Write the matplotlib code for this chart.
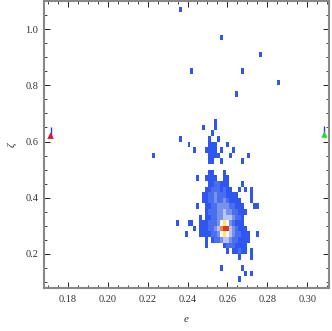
import matplotlib
import numpy as np

matplotlib.use("Agg")
import matplotlib.pyplot as plt
from matplotlib.colors import BoundaryNorm, ListedColormap
from matplotlib.ticker import MultipleLocator

# 2D histogram of (e, zeta): bin grid
e_start, e_step, n_cols = 0.2205, 0.0015, 47
z_start, z_step, n_rows = 0.08, 0.02, 51

# density level per cell, read row by row from the top (row 0 = zeta 1.08-1.10)
# each entry: (first column, levels for consecutive columns)
cell_rows = {
    1: [(10, "1")],
    6: [(24, "1")],
    9: [(37, "1")],
    12: [(14, "1"), (31, "1")],
    14: [(43, "1")],
    16: [(29, "1")],
    21: [(22, "1")],
    22: [(18, "1"), (22, "1")],
    23: [(21, "1")],
    24: [(10, "1"), (20, "1"), (23, "1")],
    25: [(13, "1"), (20, "111"), (26, "1")],
    26: [(15, "1"), (19, "1111"), (24, "1"), (28, "1")],
    27: [(1, "1"), (20, "1111"), (27, "1"), (33, "1")],
    28: [(20, "11"), (24, "1"), (31, "1")],
    30: [(20, "11"), (25, "1")],
    31: [(16, "1"), (19, "1111"), (25, "11")],
    32: [(20, "1122111"), (31, "1")],
    33: [(19, "112221211"), (30, "1"), (32, "1"), (34, "1")],
    34: [(18, "112232221111"), (34, "1")],
    35: [(18, "1122322321111"), (34, "1")],
    36: [(16, "1"), (19, "1122333322111"), (35, "11")],
    37: [(19, "12223343322111")],
    38: [(17, "1"), (19, "1122334443221")],
    39: [(9, "1"), (13, "11"), (17, "111222356532111")],
    40: [(15, "1"), (17, "1112234788432111")],
    41: [(12, "1"), (17, "11112235654322111"), (36, "1")],
    42: [(19, "1"), (21, "1223443221111")],
    43: [(19, "1"), (25, "12221111")],
    44: [(26, "1"), (28, "11211"), (34, "1")],
    45: [(30, "1"), (34, "1")],
    47: [(24, "1"), (31, "1")],
    48: [(32, "1"), (34, "1")],
    49: [(30, "1")],
}

level_colors = ["#3056f0", "#4a6ef0", "#7892ec", "#b8c5f3", "#f6f6f8", "#f7e86a", "#ee8a3a", "#d83a2a"]

# reference markers on the frame edges
marker_e = [0.1715, 0.3085]
marker_z = [0.621, 0.625]
marker_colors = ["#e8102a", "#22dd22"]
marker_tip = 0.03

grid = np.zeros((n_rows, n_cols))
for row, segments in cell_rows.items():
    for col, levels in segments:
        for k, ch in enumerate(levels):
            grid[n_rows - 1 - row, col + k] = int(ch)

e_edges = e_start + e_step * np.arange(n_cols + 1)
z_edges = z_start + z_step * np.arange(n_rows + 1)

plt.rcParams["font.family"] = ["Liberation Serif", "DejaVu Serif"]

fig = plt.figure(figsize=(3.32, 3.31), dpi=100)
ax = fig.add_axes([0.1325, 0.13, 0.8585, 0.867])

cmap = ListedColormap(level_colors)
norm = BoundaryNorm(np.arange(0.5, len(level_colors) + 1.0, 1.0), cmap.N)
ax.pcolormesh(e_edges, z_edges, np.ma.masked_equal(grid, 0), cmap=cmap, norm=norm,
              edgecolors="face", linewidth=0)

for e, z, c in zip(marker_e, marker_z, marker_colors):
    ax.vlines(e, z, z + marker_tip, color="#2040f0", linewidth=1.0, zorder=4)
    ax.scatter([e], [z], marker="^", s=22, color=c, edgecolors="none", zorder=5)

ax.set_xlim(0.1682, 0.3108)
ax.set_ylim(0.079, 1.10)

ax.xaxis.set_major_locator(MultipleLocator(0.02))
ax.xaxis.set_minor_locator(MultipleLocator(0.005))
ax.yaxis.set_major_locator(MultipleLocator(0.2))
ax.yaxis.set_minor_locator(MultipleLocator(0.05))
ax.xaxis.set_major_formatter(matplotlib.ticker.FormatStrFormatter("%.2f"))
ax.yaxis.set_major_formatter(matplotlib.ticker.FormatStrFormatter("%.1f"))

ax.tick_params(which="both", direction="in", top=True, right=True, color="#222222",
               labelcolor="#333333", labelsize=7.5)
ax.tick_params(which="major", length=4, width=0.7)
ax.tick_params(which="minor", length=2, width=0.6)
ax.tick_params(axis="x", pad=5)
ax.tick_params(axis="y", pad=4)

for spine in ax.spines.values():
    spine.set_color("#888888")
    spine.set_linewidth(1.5)

ax.set_xlabel("e", fontstyle="italic", fontsize=8, color="#333333", labelpad=8)
ax.set_ylabel("ζ", fontstyle="italic", fontsize=8, color="#333333", labelpad=6)

fig.savefig("out.png", dpi=100)
plt.close(fig)
